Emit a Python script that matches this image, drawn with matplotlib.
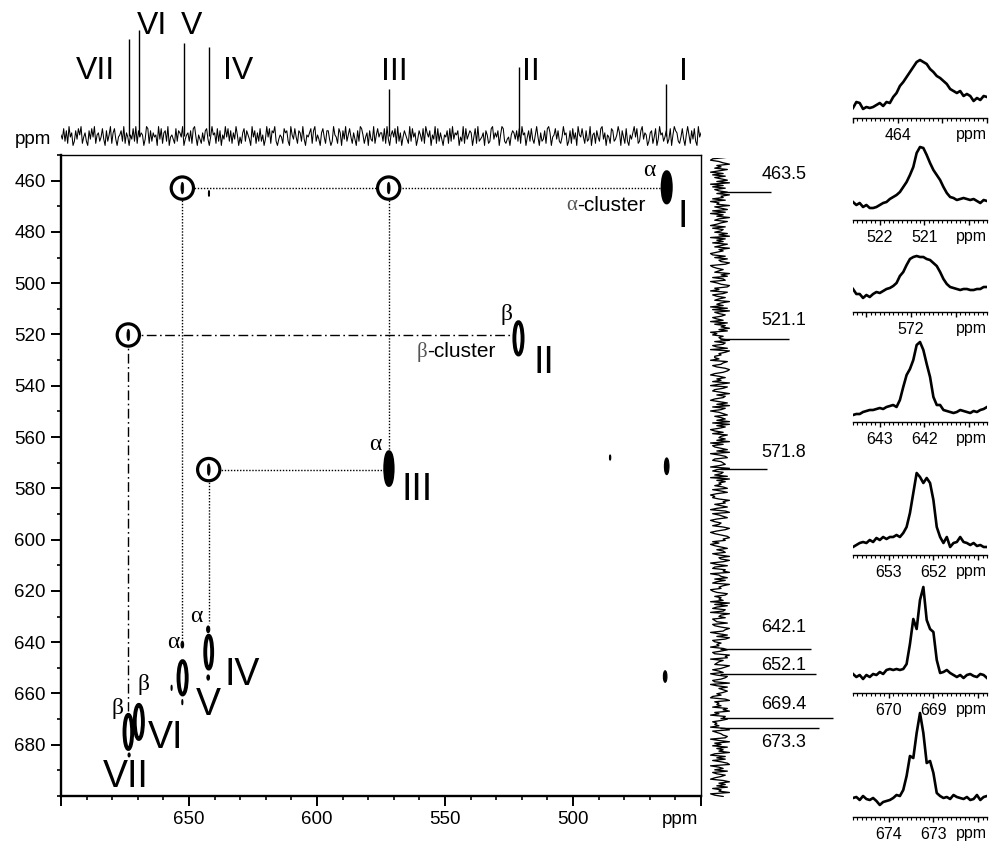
import numpy as np
import matplotlib.pyplot as plt
from matplotlib.patches import Ellipse
from matplotlib.ticker import MultipleLocator

plt.rcParams["font.family"] = ["Liberation Sans", "DejaVu Sans"]
SERIF = ["Liberation Serif", "DejaVu Serif"]

# ---------------- data ----------------
# 1D peaks (ppm) seen in both projections
peak_ppm = [463.5, 521.1, 571.8, 642.1, 652.1, 669.4, 673.3]
site_names = ["I", "II", "III", "IV", "V", "VI", "VII"]
top_heights = [52, 69, 47, 89, 93, 106, 97]      # F2 projection (top)
side_heights = [51, 69, 47, 91, 96, 113, 99]     # F1 projection (right)
side_labels = ["463.5", "521.1", "571.8", "642.1", "652.1", "669.4", "673.3"]

# baseline noise of the projections, one digit per sample (0..9)
top_noise = (
    "53827 19460 27385 91462 07384 91562 48307 25916 83045 72916 "
    "40538 29174 65039 81726 45093 81672 90453 18276 49035 62718 "
    "94053 16278 30495 61827 05394 82716 39504 16827 53094 71628 "
    "25039 48176 92035 41867 20953 84176 29305 46817 92530 68417 "
    "73029 54186 07392 58416 30729 85146 07329 15846 62819 30574 "
    "81926 04753 19284 60375 28196 47053 91826 30547 18293 65704 "
    "29183 57604 81923 46075 12893 64705 98213 40576 37281 95604 "
    "72831 59406 23718 96045 83721 49560 27183 60954 84172 39056 "
    "17428 93605 41872 35960 74182 05369 48127 93650 26714 80395 "
    "62471 38059 76214 83059 51738 20946"
)
side_noise = (
    "71046 93528 40617 25839 06172 48395 61704 39258 17063 94285 "
    "30716 52849 07361 85294 63017 28459 70136 42958 16703 59824 "
    "08613 74295 36081 92475 13608 27594 80316 45927 61380 97452 "
    "24086 51379 86204 73519 40862 15937 62048 39175 04682 57391 "
    "93740 26185 47390 61258 39047 82156 74093 16528 09374 52681 "
    "58302 14967 25830 79146 83025 41697 30258 96714 02583 67149 "
    "45960 38217 69045 82731 96450 13872 54609 28317 60954 71238 "
    "12597 60483 97125 34068 51297 80643 29751 46038 75129 03846 "
    "86351 07924 35186 92407 68513 24079 13568 70492 51836 49207 "
    "37158 90462 81375 20694 73815 49026"
)

# 2D cross peaks: F2 (x), F1 (y), widths in ppm
cross_x = [463.4, 521.3, 571.9, 642.3, 652.5, 669.6, 673.7]
cross_y = [462.6, 521.5, 572.3, 643.9, 653.9, 671.1, 675.0]
cross_w = [3.2, 3.2, 2.9, 2.7, 3.2, 3.2, 3.0]
cross_h = [11.8, 12.6, 12.8, 12.8, 13.0, 13.3, 13.3]
cross_filled = [True, False, True, False, False, False, False]

# weak cross peaks
weak_x = [642.5, 642.5, 652.6, 656.8, 673.4, 652.6, 463.4, 485.5, 464.0, 642.2]
weak_y = [635.0, 653.8, 641.0, 657.8, 684.0, 663.4, 571.4, 568.0, 653.4, 465.0]
weak_w = [1.2, 1.0, 1.0, 0.4, 0.8, 0.4, 1.8, 0.5, 1.4, 0.4]
weak_h = [2.6, 2.0, 2.5, 2.0, 1.5, 2.0, 6.5, 2.0, 4.5, 2.2]

# circled correlations
circ_x = [652.6, 572.0, 673.7, 642.3]
circ_y = [462.9, 462.9, 520.2, 572.7]

# connectors (x0, y0, x1, y1)
dotted_links = [
    (652.9, 462.9, 465.5, 462.9),
    (652.9, 462.9, 652.9, 641.5),
    (572.0, 462.9, 572.0, 566.0),
    (642.3, 572.7, 574.0, 572.7),
    (642.3, 572.7, 642.3, 632.5),
]
dashdot_links = [
    (673.7, 520.2, 523.5, 520.2),
    (673.7, 520.2, 673.7, 667.0),
]

# expanded 1D slices (right column), 41 samples over 3 ppm each
inset_start = [465.0, 522.6, 573.3, 643.6, 653.8, 670.8, 674.8]
inset_span = 3.0
inset_major = [[465, 464, 463, 462], [522, 521, 520], [573, 572, 571],
               [643, 642, 641], [653, 652, 651], [670, 669, 668], [674, 673, 672]]
inset_labeled = [[464], [522, 521], [572], [643, 642], [653, 652], [670, 669], [674, 673]]
inset_traces = [
    [10, 16, 15, 9, 11, 10, 11, 13, 15, 12, 16, 15, 21, 25, 32, 36, 41, 46, 51, 56,
     58, 56, 54, 49, 46, 42, 40, 37, 34, 29, 27, 25, 27, 22, 24, 22, 17, 20, 18, 22, 21],
    [18, 15, 17, 13, 15, 12, 12, 13, 15, 17, 18, 21, 23, 25, 28, 33, 38, 45, 53, 67,
     73, 72, 65, 57, 50, 45, 40, 33, 27, 23, 22, 20, 21, 22, 21, 20, 21, 19, 17, 20, 19],
    [23, 18, 18, 14, 17, 15, 18, 20, 19, 21, 23, 24, 26, 29, 36, 40, 47, 53, 55, 56,
     55, 55, 53, 52, 49, 46, 40, 33, 28, 25, 24, 23, 22, 23, 23, 22, 22, 23, 23, 25, 25],
    [7, 8, 8, 10, 11, 12, 12, 13, 14, 13, 15, 16, 17, 15, 22, 35, 47, 53, 62, 77,
     80, 72, 58, 45, 25, 17, 17, 12, 11, 10, 9, 10, 12, 11, 10, 9, 11, 10, 12, 13, 15],
    [8, 10, 12, 13, 12, 15, 13, 17, 15, 18, 16, 18, 18, 20, 18, 22, 28, 42, 62, 82,
     78, 72, 77, 72, 55, 28, 18, 12, 18, 8, 12, 13, 18, 13, 12, 10, 12, 9, 10, 8, 8],
    [19, 16, 18, 14, 18, 16, 19, 18, 21, 19, 23, 24, 23, 24, 23, 24, 29, 49, 74, 64,
     93, 106, 73, 64, 61, 33, 20, 21, 23, 20, 18, 16, 18, 15, 18, 19, 17, 16, 19, 18, 15],
    [19, 20, 17, 21, 18, 17, 19, 16, 12, 15, 16, 17, 19, 22, 21, 27, 41, 61, 59, 84,
     104, 84, 54, 56, 44, 24, 21, 19, 20, 18, 22, 20, 19, 18, 20, 17, 18, 22, 17, 20, 21],
]

# ---------------- layout ----------------
W, H = 989, 843
fig = plt.figure(figsize=(W / 100, H / 100), dpi=100)


def box(x0, y0, x1, y1):
    return [x0 / W, 1 - y1 / H, (x1 - x0) / W, (y1 - y0) / H]


# main 2D map
ax = fig.add_axes(box(61, 155, 701, 796))
ax.set_xlim(700, 450)
ax.set_ylim(700, 450)
ax.set_xticks([700, 650, 600, 550, 500, 450], ["", "650", "600", "550", "500", ""])
ax.set_yticks(list(range(460, 700, 20)))
ax.xaxis.set_minor_locator(MultipleLocator(10))
ax.yaxis.set_minor_locator(MultipleLocator(10))
ax.tick_params(which="major", direction="out", length=7, width=1.4, labelsize=13.5, pad=4)
ax.tick_params(which="minor", direction="out", length=3, width=1.2)
for s in ["left", "bottom"]:
    ax.spines[s].set_linewidth(1.7)
for s in ["top", "right"]:
    ax.spines[s].set_linewidth(1.0)
ax.annotate("ppm", xy=(1, 0), xycoords="axes fraction", xytext=(-2, -17),
            textcoords="offset points", ha="right", va="center", fontsize=13.5)
fig.text(33 / W, 1 - 139 / H, "ppm", ha="center", va="center", fontsize=13.5)

for x0, y0, x1, y1 in dotted_links:
    ax.plot([x0, x1], [y0, y1], color="black", lw=1.0, ls=(0, (1, 1.2)), zorder=1)
for x0, y0, x1, y1 in dashdot_links:
    ax.plot([x0, x1], [y0, y1], color="black", lw=1.0, ls=(0, (7, 2.5, 1.2, 2.5)), zorder=1)

for x, y in zip(circ_x, circ_y):
    ax.add_patch(Ellipse((x, y), 8.7, 8.7, fc="white", ec="black", lw=2.3, zorder=3))
    ax.add_patch(Ellipse((x, y), 1.1, 4.5, fc="black", ec="black", lw=0.5, zorder=4))

for x, y, w, h, f in zip(cross_x, cross_y, cross_w, cross_h, cross_filled):
    ax.add_patch(Ellipse((x, y), w, h, fc="black" if f else "white", ec="black",
                         lw=2.8, zorder=4))
for x, y, w, h in zip(weak_x, weak_y, weak_w, weak_h):
    ax.add_patch(Ellipse((x, y), w, h, fc="black", ec="black", lw=0.8, zorder=4))

greek = [("α", 470.0, 455.9), ("β", 525.8, 512.2), ("α", 577.3, 562.9),
         ("α", 647.0, 629.8), ("α", 656.1, 640.3), ("β", 667.6, 656.7), ("β", 678.0, 665.9)]
for t, x, y in greek:
    ax.text(x, y, t, family=SERIF, fontsize=17, ha="center", va="center", zorder=5)

roman_pos = [(457.1, 474.0), (511.3, 531.0), (561.1, 580.6), (629.4, 652.8),
             (642.5, 664.6), (659.1, 677.3), (674.6, 692.5)]
for name, (x, y) in zip(site_names, roman_pos):
    ax.text(x, y, name, fontsize=27, ha="center", va="center", zorder=5)

for g, x, y in [("α", 498.4, 469.7), ("β", 557.0, 526.8)]:
    ax.text(x, y, g, family=SERIF, fontsize=15, color="#555555", ha="right", va="center")
    ax.text(x, y, "-cluster", fontsize=15, ha="left", va="center")

# top projection (F2)
ax_top = fig.add_axes(box(61, 5, 701, 152))
ax_top.set_xlim(700, 450)
ax_top.set_ylim(-16, 131)
ax_top.axis("off")
tn = np.array([int(c) for c in top_noise.replace(" ", "")])
ax_top.plot(np.linspace(700, 450, len(tn)), (tn - 4.5) * 2.1, color="black", lw=0.75)
ax_top.vlines(peak_ppm, 0, top_heights, color="black", lw=1.0)
top_label_x = [456.8, 516.6, 569.7, 631.0, 649.0, 664.5, 686.7]
top_label_y = [63.5, 63.5, 63.5, 65, 109.5, 109.5, 65]
for name, x, y in zip(site_names, top_label_x, top_label_y):
    ax_top.text(x, y, name, fontsize=23, ha="center", va="center")

# side projection (F1)
ax_side = fig.add_axes(box(703, 157.5, 885, 796.5))
ax_side.set_ylim(700, 450)
ax_side.set_xlim(-17, 165)
ax_side.axis("off")
sn = np.array([int(c) for c in side_noise.replace(" ", "")])
ax_side.plot((sn - 4.5) * 2.1, np.linspace(450, 700, len(sn)), color="black", lw=0.95)
ax_side.hlines(peak_ppm, 0, side_heights, color="black", lw=1.0)
label_shift = [-6.7, -7.5, -6.3, -8.2, -3.5, -5.5, 5.5]
for p, lab, d in zip(peak_ppm, side_labels, label_shift):
    ax_side.text(64, p + d, lab, fontsize=13, ha="center", va="center")

# expanded slices
axis_y = [118, 220, 312, 422, 555, 693, 817]
for i, tr in enumerate(inset_traces):
    top_px = max(tr) + 5
    a = fig.add_axes(box(853, axis_y[i] - top_px, 987, axis_y[i]))
    x0 = inset_start[i]
    x1 = x0 - inset_span
    a.plot(np.linspace(x0, x1, len(tr)), tr, color="black", lw=1.9, solid_joinstyle="round")
    a.set_xlim(x0, x1)
    a.set_ylim(0, top_px)
    for s in ["top", "left", "right"]:
        a.spines[s].set_visible(False)
    a.spines["bottom"].set_linewidth(1.0)
    a.set_yticks([])
    a.set_xticks(inset_major[i],
                 [str(m) if m in inset_labeled[i] else "" for m in inset_major[i]])
    a.xaxis.set_minor_locator(MultipleLocator(0.1))
    a.tick_params(which="major", direction="out", length=3.5, width=1.0, labelsize=11.5, pad=4)
    a.tick_params(which="minor", direction="out", length=1.8, width=0.8)
    a.patch.set_alpha(0)
    a.annotate("ppm", xy=(1, 0), xycoords="axes fraction", xytext=(0, -12),
               textcoords="offset points", ha="right", va="center", fontsize=11.5)

fig.savefig("out.png", dpi=100)
